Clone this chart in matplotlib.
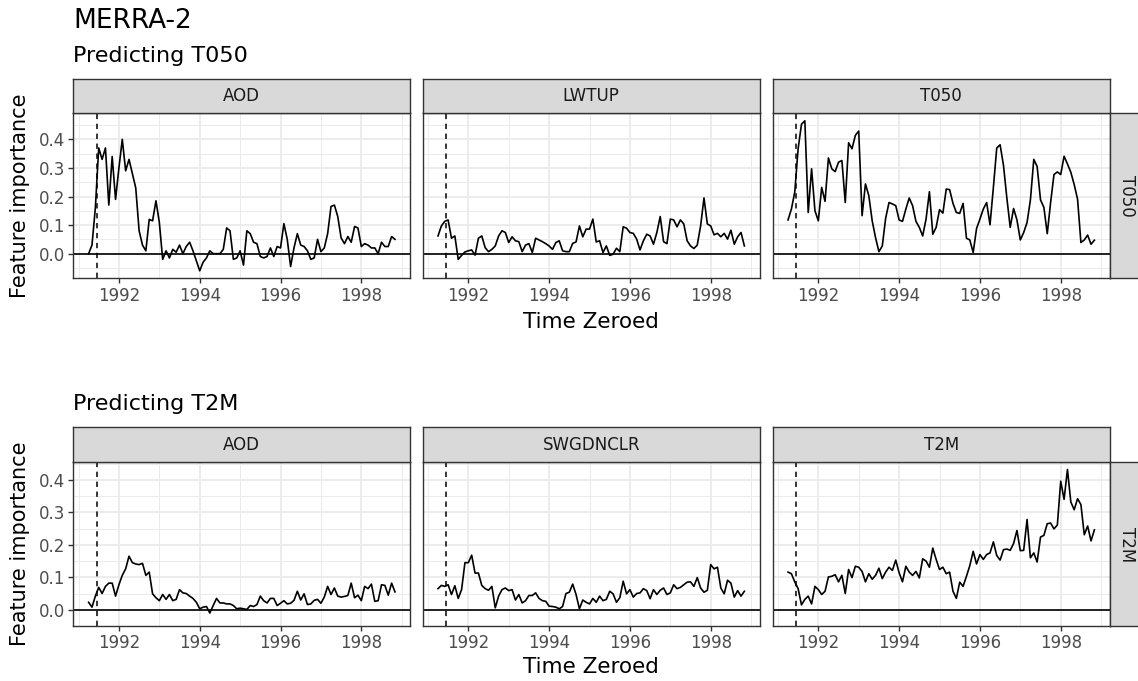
import numpy as np
import matplotlib
matplotlib.use("Agg")
import matplotlib.pyplot as plt

# monthly feature importance, Apr 1991 - Nov 1998
start_year = 1991.25
eruption = 1991 + 5.5 / 12  # Pinatubo, mid June 1991

targets = ["T050", "T2M"]
features = {
    "T050": ["AOD", "LWTUP", "T050"],
    "T2M": ["AOD", "SWGDNCLR", "T2M"],
}

t050_aod = [0.00, 0.03, 0.16, 0.37, 0.33, 0.37, 0.17, 0.34, 0.19, 0.30,
            0.40, 0.29, 0.33, 0.28, 0.23, 0.08, 0.03, 0.01, 0.12, 0.115,
            0.185, 0.11, -0.02, 0.01, -0.015, 0.015, 0.005, 0.03, 0.0, 0.025,
            0.04, 0.01, -0.025, -0.06, -0.03, -0.015, 0.01, 0.0, 0.0, 0.0,
            0.015, 0.09, 0.08, -0.02, -0.015, 0.01, -0.04, 0.08, 0.07, 0.04,
            0.035, -0.01, -0.015, -0.01, 0.02, -0.01, 0.025, 0.02, 0.105, 0.05,
            -0.045, 0.02, 0.07, 0.03, 0.025, 0.01, -0.02, -0.015, 0.05, 0.007,
            0.02, 0.07, 0.165, 0.17, 0.13, 0.055, 0.035, 0.06, 0.04, 0.095,
            0.09, 0.025, 0.035, 0.03, 0.02, 0.02, 0.0, 0.04, 0.025, 0.025,
            0.06, 0.05]

t050_lwtup = [0.062, 0.097, 0.113, 0.118, 0.054, 0.062, -0.02, -0.006, 0.006, 0.01,
              0.013, -0.005, 0.054, 0.062, 0.021, 0.007, 0.015, 0.027, 0.062, 0.08,
              0.074, 0.039, 0.059, 0.045, 0.042, 0.007, 0.03, 0.035, 0.004, 0.054,
              0.048, 0.042, 0.035, 0.027, 0.015, 0.039, 0.045, 0.01, 0.007, 0.007,
              0.036, 0.041, 0.097, 0.059, 0.086, 0.086, 0.121, 0.041, 0.045, 0.004,
              0.027, -0.006, -0.002, 0.019, 0.007, 0.094, 0.089, 0.074, 0.071, 0.051,
              0.013, 0.045, 0.068, 0.062, 0.033, 0.074, 0.13, 0.042, 0.035, 0.121,
              0.118, 0.094, 0.118, 0.104, 0.045, 0.027, 0.018, 0.03, 0.097, 0.195,
              0.104, 0.097, 0.066, 0.071, 0.059, 0.071, 0.051, 0.082, 0.033, 0.059,
              0.074, 0.027]

t050_t050 = [0.118, 0.156, 0.215, 0.367, 0.453, 0.465, 0.144, 0.297, 0.150, 0.115,
             0.232, 0.183, 0.335, 0.297, 0.287, 0.32, 0.326, 0.179, 0.388, 0.367,
             0.414, 0.429, 0.133, 0.244, 0.203, 0.115, 0.056, 0.007, 0.027, 0.124,
             0.179, 0.174, 0.168, 0.118, 0.113, 0.156, 0.195, 0.168, 0.113, 0.092,
             0.062, 0.121, 0.217, 0.068, 0.092, 0.154, 0.142, 0.226, 0.224, 0.176,
             0.144, 0.141, 0.176, 0.054, 0.048, 0.004, 0.088, 0.121, 0.156, 0.179,
             0.101, 0.232, 0.37, 0.381, 0.309, 0.195, 0.092, 0.158, 0.118, 0.048,
             0.074, 0.109, 0.188, 0.33, 0.305, 0.188, 0.162, 0.070, 0.179, 0.277,
             0.286, 0.277, 0.341, 0.314, 0.285, 0.242, 0.191, 0.039, 0.048, 0.065,
             0.033, 0.047]

t2m_aod = [0.023, 0.008, 0.042, 0.069, 0.050, 0.072, 0.082, 0.082, 0.042, 0.077,
           0.106, 0.126, 0.165, 0.145, 0.141, 0.139, 0.143, 0.106, 0.116, 0.049,
           0.037, 0.028, 0.047, 0.032, 0.047, 0.028, 0.032, 0.062, 0.052, 0.050,
           0.042, 0.035, 0.023, 0.003, 0.008, 0.010, -0.010, 0.013, 0.035, 0.021,
           0.021, 0.018, 0.018, 0.013, 0.003, 0.005, 0.003, 0.001, 0.013, 0.010,
           0.016, 0.042, 0.028, 0.021, 0.035, 0.035, 0.013, 0.020, 0.028, 0.018,
           0.020, 0.029, 0.057, 0.030, 0.049, 0.016, 0.018, 0.029, 0.032, 0.020,
           0.039, 0.072, 0.047, 0.067, 0.042, 0.039, 0.041, 0.044, 0.082, 0.037,
           0.045, 0.028, 0.072, 0.065, 0.079, 0.026, 0.028, 0.077, 0.075, 0.045,
           0.082, 0.055]

t2m_swgdnclr = [0.065, 0.075, 0.072, 0.077, 0.047, 0.074, 0.035, 0.062, 0.145, 0.145,
                0.168, 0.113, 0.113, 0.075, 0.065, 0.060, 0.072, 0.006, 0.042, 0.062,
                0.067, 0.059, 0.062, 0.030, 0.047, 0.021, 0.028, 0.044, 0.044, 0.052,
                0.035, 0.028, 0.026, 0.011, 0.010, 0.008, 0.003, 0.010, 0.050, 0.054,
                0.079, 0.047, 0.003, 0.030, 0.023, 0.018, 0.035, 0.023, 0.042, 0.028,
                0.032, 0.057, 0.049, 0.023, 0.037, 0.088, 0.049, 0.062, 0.039, 0.050,
                0.052, 0.065, 0.059, 0.034, 0.062, 0.047, 0.060, 0.067, 0.047, 0.052,
                0.077, 0.065, 0.069, 0.077, 0.085, 0.086, 0.072, 0.099, 0.067, 0.054,
                0.060, 0.139, 0.126, 0.131, 0.067, 0.049, 0.091, 0.082, 0.039, 0.059,
                0.042, 0.057]

t2m_t2m = [0.116, 0.111, 0.086, 0.065, 0.015, 0.032, 0.042, 0.018, 0.072, 0.062,
           0.047, 0.057, 0.101, 0.103, 0.108, 0.086, 0.106, 0.050, 0.124, 0.099,
           0.134, 0.131, 0.118, 0.086, 0.111, 0.094, 0.106, 0.128, 0.096, 0.116,
           0.131, 0.121, 0.153, 0.114, 0.086, 0.134, 0.116, 0.106, 0.118, 0.098,
           0.157, 0.150, 0.131, 0.190, 0.155, 0.124, 0.131, 0.111, 0.116, 0.057,
           0.035, 0.085, 0.072, 0.103, 0.136, 0.180, 0.141, 0.170, 0.155, 0.170,
           0.175, 0.209, 0.167, 0.153, 0.185, 0.187, 0.183, 0.204, 0.244, 0.182,
           0.183, 0.278, 0.160, 0.175, 0.147, 0.224, 0.229, 0.265, 0.267, 0.249,
           0.261, 0.396, 0.340, 0.432, 0.332, 0.308, 0.342, 0.324, 0.231, 0.258,
           0.212, 0.246]

series = {
    "T050": [t050_aod, t050_lwtup, t050_t050],
    "T2M": [t2m_aod, t2m_swgdnclr, t2m_t2m],
}

W, H = 1138, 681
fig = plt.figure(figsize=(W / 100, H / 100), dpi=100)


def px_axes(x0, y0, x1, y1, **kw):
    return fig.add_axes([x0 / W, 1 - y1 / H, (x1 - x0) / W, (y1 - y0) / H], **kw)


def strip_box(ax):
    ax.set_facecolor("#D9D9D9")
    ax.set_xticks([])
    ax.set_yticks([])
    for s in ax.spines.values():
        s.set_color("#333333")
        s.set_linewidth(1.0)


col_left = [73.3, 422.7, 772.7]
panel_w = 337
rows = {
    "T050": dict(strip=(79, 113.3), panel=(113.3, 278.3), sub=62, xlab=322),
    "T2M": dict(strip=(427, 462.3), panel=(462.3, 626), sub=410.5, xlab=667),
}

x_lo, x_hi = start_year, start_year + 91 / 12
x_pad = 0.05 * (x_hi - x_lo)

for target in targets:
    r = rows[target]
    vals_all = np.concatenate([np.asarray(v) for v in series[target]])
    y_lo, y_hi = vals_all.min(), vals_all.max()
    y_pad = 0.05 * (y_hi - y_lo)

    for j, (feat, vals) in enumerate(zip(features[target], series[target])):
        x0 = col_left[j]
        x1 = x0 + panel_w
        t = start_year + np.arange(len(vals)) / 12

        ax = px_axes(x0, r["panel"][0], x1, r["panel"][1])
        ax.plot(t, vals, color="black", lw=1.2, zorder=3)
        ax.axhline(0, color="black", lw=1.2, zorder=2)
        ax.axvline(eruption, color="black", lw=1.1, ls=(0, (3.5, 3)), zorder=2)

        ax.set_xlim(x_lo - x_pad, x_hi + x_pad)
        ax.set_ylim(y_lo - y_pad, y_hi + y_pad)
        ax.set_xticks([1992, 1994, 1996, 1998])
        ax.set_xticks([1991, 1993, 1995, 1997, 1999], minor=True)
        ax.set_yticks([0.0, 0.1, 0.2, 0.3, 0.4])
        ax.set_yticks(np.arange(-0.05, 0.5, 0.1), minor=True)
        ax.set_yticklabels(["0.0", "0.1", "0.2", "0.3", "0.4"] if j == 0 else [])
        ax.grid(which="major", color="#EBEBEB", lw=1.3, zorder=0)
        ax.grid(which="minor", color="#EBEBEB", lw=0.7, zorder=0)
        ax.set_axisbelow(True)
        ax.tick_params(which="major", length=3.5, width=1.0, color="#333333",
                       labelsize=12, labelcolor="#4D4D4D", pad=2.5)
        ax.tick_params(which="minor", length=0)
        if j > 0:
            ax.tick_params(axis="y", which="major", length=0)
        for s in ax.spines.values():
            s.set_color("#333333")
            s.set_linewidth(1.0)
            s.set_zorder(5)

        sx = px_axes(x0, r["strip"][0], x1, r["strip"][1])
        strip_box(sx)
        sx.text(0.5, 0.5, feat, ha="center", va="center", fontsize=12,
                color="#1A1A1A", transform=sx.transAxes)

    rx = px_axes(1109.7, r["panel"][0], 1143.7, r["panel"][1])
    strip_box(rx)
    rx.text(0.5, 0.5, target, ha="center", va="center", rotation=-90,
            fontsize=12, color="#1A1A1A", transform=rx.transAxes)

    fig.text(73.3 / W, 1 - r["sub"] / H, "Predicting " + target,
             fontsize=16, ha="left", va="baseline")
    fig.text(591 / W, 1 - r["xlab"] / H, "Time Zeroed",
             fontsize=15.5, ha="center", va="center")
    yc = (r["panel"][0] + r["panel"][1]) / 2
    fig.text(20.5 / W, 1 - yc / H, "Feature importance", rotation=90,
             fontsize=15, ha="center", va="center")

fig.text(73.3 / W, 1 - 28.3 / H, "MERRA-2", fontsize=19, ha="left", va="baseline")

fig.savefig("out.png", dpi=100)
